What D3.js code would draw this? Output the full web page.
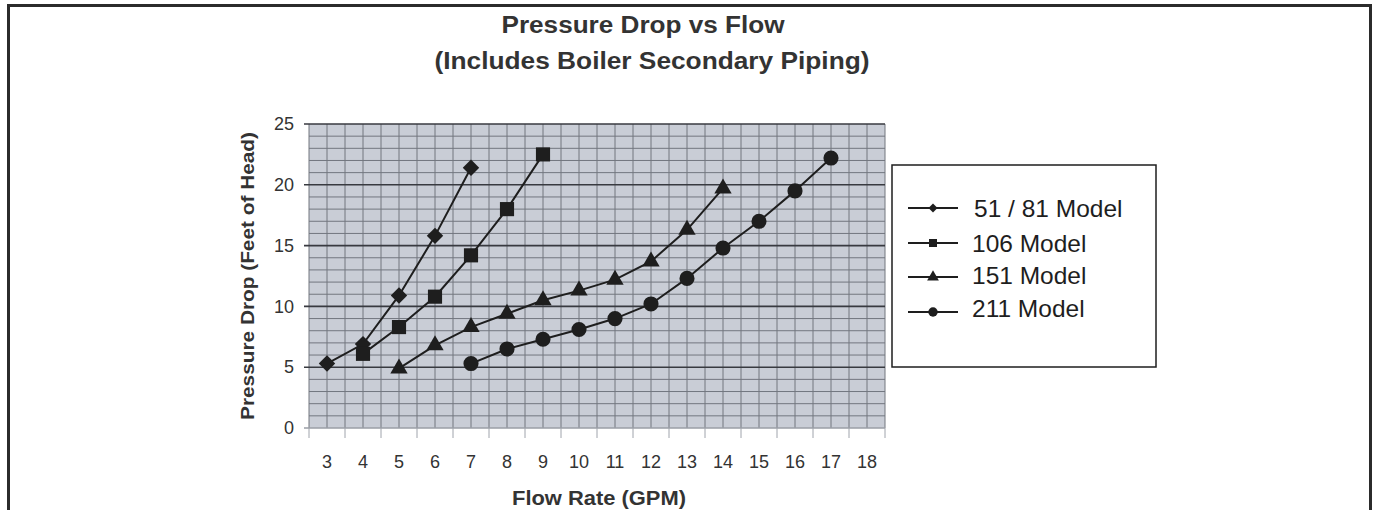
<!DOCTYPE html>
<html><head><meta charset="utf-8">
<script src="https://cdn.jsdelivr.net/npm/d3@7"></script>
<style>
html,body{margin:0;padding:0;background:#fff;}
svg{display:block;}
text{font-family:"Liberation Sans",Arial,Helvetica,sans-serif;}
</style></head>
<body>
<script>
const categories = ["3","4","5","6","7","8","9","10","11","12","13","14","15","16","17","18"];
const yTicks = [0,5,10,15,20,25];
const seriesNames = ["51 / 81 Model","106 Model","151 Model","211 Model"];
const s5181 = [[3,5.3],[4,6.9],[5,10.9],[6,15.8],[7,21.4]];
const s106 = [[4,6.1],[5,8.3],[6,10.8],[7,14.2],[8,18.0],[9,22.5]];
const s151 = [[5,4.9],[6,6.8],[7,8.3],[8,9.4],[9,10.5],[10,11.3],[11,12.2],[12,13.7],[13,16.3],[14,19.7]];
const s211 = [[7,5.3],[8,6.5],[9,7.3],[10,8.1],[11,9.0],[12,10.2],[13,12.3],[14,14.8],[15,17.0],[16,19.5],[17,22.2]];
const seriesData = [s5181, s106, s151, s211];

const W = 1375, H = 510;
const svg = d3.select("body").append("svg").attr("width", W).attr("height", H);

// outer frame
svg.append("path").attr("d", `M8.5,${H+2} V5.5 H1370.5 V${H+2}`)
  .attr("fill","none").attr("stroke","#2b2b2b").attr("stroke-width",3);

const pl = 309, pr = 885, pt = 124, pb = 428;
const x = d3.scaleBand().domain(categories).range([pl, pr]).paddingInner(0).paddingOuter(0);
const bw = x.bandwidth();
const xc = v => x(String(v)) + bw/2;
const y = d3.scaleLinear().domain([0,25]).range([pb, pt]);

// plot bg
svg.append("rect").attr("x",pl).attr("y",pt).attr("width",pr-pl).attr("height",pb-pt).attr("fill","#c9cdd6");

const g = svg.append("g");
const minorCol = "#72767f";
d3.range(0,26,1).filter(v=>v%5!==0).forEach(v=>{
  g.append("line").attr("x1",pl).attr("x2",pr).attr("y1",y(v)).attr("y2",y(v))
   .attr("stroke",minorCol).attr("stroke-width",1);
});
categories.forEach(c=>{
  g.append("line").attr("x1",x(c)).attr("x2",x(c)).attr("y1",pt).attr("y2",pb)
   .attr("stroke",minorCol).attr("stroke-width",1);
  g.append("line").attr("x1",x(c)+bw/2).attr("x2",x(c)+bw/2).attr("y1",pt).attr("y2",pb)
   .attr("stroke",minorCol).attr("stroke-width",1);
});
g.append("line").attr("x1",pr).attr("x2",pr).attr("y1",pt).attr("y2",pb).attr("stroke",minorCol);
yTicks.forEach(v=>{
  g.append("line").attr("x1",pl-5).attr("x2",pr).attr("y1",y(v)).attr("y2",y(v))
   .attr("stroke", v===0 ? "#9a9ea6" : "#383a40").attr("stroke-width",1.6);
});
categories.concat(["end"]).forEach((c,i)=>{
  const xx = pl + i*bw;
  g.append("line").attr("x1",xx).attr("x2",xx).attr("y1",pb).attr("y2",pb+10)
   .attr("stroke","#a0a4ac").attr("stroke-width",1);
});

const yAxis = svg.append("g").attr("transform",`translate(${pl-15},0)`)
  .call(d3.axisLeft(y).tickValues(yTicks).tickSize(0).tickPadding(0));
yAxis.select(".domain").remove();
yAxis.selectAll("text").attr("font-size",18).attr("fill","#333").attr("font-family","Liberation Sans, Arial, sans-serif");

const xAxis = svg.append("g").attr("transform",`translate(0,${pb+27})`)
  .call(d3.axisBottom(x).tickSize(0).tickPadding(0));
xAxis.select(".domain").remove();
xAxis.selectAll("text").attr("font-size",18).attr("fill","#333").attr("font-family","Liberation Sans, Arial, sans-serif");

// titles
svg.append("text").attr("x",643).attr("y",33).attr("text-anchor","middle")
  .attr("font-size",23).attr("font-weight","bold").attr("fill","#333")
  .attr("textLength",283).attr("lengthAdjust","spacingAndGlyphs").text("Pressure Drop vs Flow");
svg.append("text").attr("x",652).attr("y",69).attr("text-anchor","middle")
  .attr("font-size",23).attr("font-weight","bold").attr("fill","#333")
  .attr("textLength",435).attr("lengthAdjust","spacingAndGlyphs").text("(Includes Boiler Secondary Piping)");
svg.append("text").attr("x",599).attr("y",505).attr("text-anchor","middle")
  .attr("font-size",20).attr("font-weight","bold").attr("fill","#333")
  .attr("textLength",174).attr("lengthAdjust","spacingAndGlyphs").text("Flow Rate (GPM)");
svg.append("text").attr("transform",`translate(254,276) rotate(-90)`).attr("text-anchor","middle")
  .attr("font-size",18).attr("font-weight","bold").attr("fill","#333")
  .attr("textLength",288).attr("lengthAdjust","spacingAndGlyphs").text("Pressure Drop (Feet of Head)");

const symDefs = [
  {type:d3.symbolSquare, size:135, rot:45},
  {type:d3.symbolSquare, size:200, rot:0},
  {type:d3.symbolTriangle, size:130, rot:0},
  {type:d3.symbolCircle, size:180, rot:0}
];
const line = d3.line().x(d=>xc(d[0])).y(d=>y(d[1]));
seriesData.forEach((s,i)=>{
  svg.append("path").attr("d",line(s)).attr("fill","none").attr("stroke","#1e1e1e").attr("stroke-width",2);
  const sd = symDefs[i];
  svg.selectAll(null).data(s).enter().append("path")
    .attr("d", d3.symbol().type(sd.type).size(sd.size)())
    .attr("transform", d=>`translate(${xc(d[0])},${y(d[1])}) rotate(${sd.rot})`)
    .attr("fill","#1e1e1e");
});

// legend
svg.append("rect").attr("x",892).attr("y",165).attr("width",264).attr("height",202)
  .attr("fill","#fff").attr("stroke","#1e1e1e").attr("stroke-width",1.5);
const legY = [208,243,277,312];
const legBase = [217,252,284,317];
const legSym = [
  {type:d3.symbolSquare, size:40, rot:45},
  {type:d3.symbolSquare, size:64, rot:0},
  {type:d3.symbolTriangle, size:60, rot:0},
  {type:d3.symbolCircle, size:70, rot:0}
];
seriesNames.forEach((n,i)=>{
  const yy = legY[i];
  svg.append("line").attr("x1",908).attr("x2",958).attr("y1",yy).attr("y2",yy).attr("stroke","#1e1e1e").attr("stroke-width",2);
  svg.append("path").attr("d", d3.symbol().type(legSym[i].type).size(legSym[i].size)())
    .attr("transform",`translate(933,${yy}) rotate(${legSym[i].rot})`).attr("fill","#1e1e1e");
  svg.append("text").attr("x", i===0 ? 974 : 972).attr("y", legBase[i]).attr("font-size",24.5).attr("fill","#1e1e1e").text(n);
});
</script>
</body></html>
